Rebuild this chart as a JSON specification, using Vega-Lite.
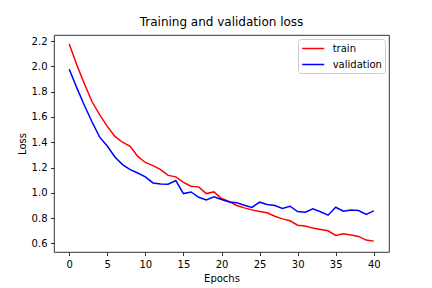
{
  "$schema": "https://vega.github.io/schema/vega-lite/v6.json",
  "width": 335,
  "height": 217,
  "autosize": {"type": "none"},
  "padding": {"left": 54, "top": 35, "right": 43, "bottom": 36},
  "title": {"text": "Training and validation loss", "fontSize": 12, "fontWeight": "normal", "font": "DejaVu Sans", "color": "#000000", "offset": 6, "anchor": "middle", "frame": "group"},
  "config": {
    "view": {"stroke": "#000000", "strokeWidth": 0.8},
    "font": "DejaVu Sans",
    "axis": {
      "grid": false,
      "domain": false,
      "tickColor": "#000000",
      "tickSize": 3.5,
      "tickWidth": 0.8,
      "labelFont": "DejaVu Sans",
      "labelFontSize": 10,
      "labelColor": "#000000",
      "labelPadding": 3.5,
      "titleFont": "DejaVu Sans",
      "titleFontSize": 10,
      "titleFontWeight": "normal",
      "titleColor": "#000000"
    }
  },
  "data": {
    "values": [
      {"epoch": 0, "loss": 2.176, "series": "train"},
      {"epoch": 1, "loss": 2.01, "series": "train"},
      {"epoch": 2, "loss": 1.86, "series": "train"},
      {"epoch": 3, "loss": 1.72, "series": "train"},
      {"epoch": 4, "loss": 1.617, "series": "train"},
      {"epoch": 5, "loss": 1.525, "series": "train"},
      {"epoch": 6, "loss": 1.446, "series": "train"},
      {"epoch": 7, "loss": 1.40, "series": "train"},
      {"epoch": 8, "loss": 1.367, "series": "train"},
      {"epoch": 9, "loss": 1.288, "series": "train"},
      {"epoch": 10, "loss": 1.24, "series": "train"},
      {"epoch": 11, "loss": 1.215, "series": "train"},
      {"epoch": 12, "loss": 1.183, "series": "train"},
      {"epoch": 13, "loss": 1.138, "series": "train"},
      {"epoch": 14, "loss": 1.126, "series": "train"},
      {"epoch": 15, "loss": 1.083, "series": "train"},
      {"epoch": 16, "loss": 1.052, "series": "train"},
      {"epoch": 17, "loss": 1.047, "series": "train"},
      {"epoch": 18, "loss": 0.994, "series": "train"},
      {"epoch": 19, "loss": 1.007, "series": "train"},
      {"epoch": 20, "loss": 0.955, "series": "train"},
      {"epoch": 21, "loss": 0.931, "series": "train"},
      {"epoch": 22, "loss": 0.90, "series": "train"},
      {"epoch": 23, "loss": 0.881, "series": "train"},
      {"epoch": 24, "loss": 0.865, "series": "train"},
      {"epoch": 25, "loss": 0.852, "series": "train"},
      {"epoch": 26, "loss": 0.842, "series": "train"},
      {"epoch": 27, "loss": 0.815, "series": "train"},
      {"epoch": 28, "loss": 0.794, "series": "train"},
      {"epoch": 29, "loss": 0.779, "series": "train"},
      {"epoch": 30, "loss": 0.744, "series": "train"},
      {"epoch": 31, "loss": 0.737, "series": "train"},
      {"epoch": 32, "loss": 0.721, "series": "train"},
      {"epoch": 33, "loss": 0.710, "series": "train"},
      {"epoch": 34, "loss": 0.700, "series": "train"},
      {"epoch": 35, "loss": 0.663, "series": "train"},
      {"epoch": 36, "loss": 0.676, "series": "train"},
      {"epoch": 37, "loss": 0.666, "series": "train"},
      {"epoch": 38, "loss": 0.655, "series": "train"},
      {"epoch": 39, "loss": 0.626, "series": "train"},
      {"epoch": 40, "loss": 0.618, "series": "train"},
      {"epoch": 0, "loss": 1.977, "series": "validation"},
      {"epoch": 1, "loss": 1.83, "series": "validation"},
      {"epoch": 2, "loss": 1.69, "series": "validation"},
      {"epoch": 3, "loss": 1.56, "series": "validation"},
      {"epoch": 4, "loss": 1.44, "series": "validation"},
      {"epoch": 5, "loss": 1.37, "series": "validation"},
      {"epoch": 6, "loss": 1.283, "series": "validation"},
      {"epoch": 7, "loss": 1.223, "series": "validation"},
      {"epoch": 8, "loss": 1.183, "series": "validation"},
      {"epoch": 9, "loss": 1.157, "series": "validation"},
      {"epoch": 10, "loss": 1.126, "series": "validation"},
      {"epoch": 11, "loss": 1.078, "series": "validation"},
      {"epoch": 12, "loss": 1.070, "series": "validation"},
      {"epoch": 13, "loss": 1.068, "series": "validation"},
      {"epoch": 14, "loss": 1.097, "series": "validation"},
      {"epoch": 15, "loss": 0.994, "series": "validation"},
      {"epoch": 16, "loss": 1.007, "series": "validation"},
      {"epoch": 17, "loss": 0.965, "series": "validation"},
      {"epoch": 18, "loss": 0.944, "series": "validation"},
      {"epoch": 19, "loss": 0.968, "series": "validation"},
      {"epoch": 20, "loss": 0.947, "series": "validation"},
      {"epoch": 21, "loss": 0.928, "series": "validation"},
      {"epoch": 22, "loss": 0.921, "series": "validation"},
      {"epoch": 23, "loss": 0.902, "series": "validation"},
      {"epoch": 24, "loss": 0.884, "series": "validation"},
      {"epoch": 25, "loss": 0.926, "series": "validation"},
      {"epoch": 26, "loss": 0.907, "series": "validation"},
      {"epoch": 27, "loss": 0.900, "series": "validation"},
      {"epoch": 28, "loss": 0.876, "series": "validation"},
      {"epoch": 29, "loss": 0.894, "series": "validation"},
      {"epoch": 30, "loss": 0.852, "series": "validation"},
      {"epoch": 31, "loss": 0.847, "series": "validation"},
      {"epoch": 32, "loss": 0.873, "series": "validation"},
      {"epoch": 33, "loss": 0.850, "series": "validation"},
      {"epoch": 34, "loss": 0.823, "series": "validation"},
      {"epoch": 35, "loss": 0.886, "series": "validation"},
      {"epoch": 36, "loss": 0.855, "series": "validation"},
      {"epoch": 37, "loss": 0.865, "series": "validation"},
      {"epoch": 38, "loss": 0.860, "series": "validation"},
      {"epoch": 39, "loss": 0.829, "series": "validation"},
      {"epoch": 40, "loss": 0.857, "series": "validation"}
    ]
  },
  "mark": {"type": "line", "strokeWidth": 1.5},
  "encoding": {
    "x": {
      "field": "epoch",
      "type": "quantitative",
      "title": "Epochs",
      "scale": {"domain": [-2, 42], "nice": false, "zero": false},
      "axis": {"values": [0, 5, 10, 15, 20, 25, 30, 35, 40], "labelAngle": 0, "titlePadding": 4}
    },
    "y": {
      "field": "loss",
      "type": "quantitative",
      "title": "Loss",
      "scale": {"domain": [0.532, 2.248], "nice": false, "zero": false},
      "axis": {"values": [0.6, 0.8, 1.0, 1.2, 1.4, 1.6, 1.8, 2.0, 2.2], "format": ".1f", "titlePadding": 4}
    },
    "color": {
      "field": "series",
      "type": "nominal",
      "scale": {"domain": ["train", "validation"], "range": ["#ff0000", "#0000ff"]},
      "legend": {
        "title": null,
        "orient": "top-right",
        "offset": 4,
        "padding": 3,
        "fillColor": "#ffffff",
        "strokeColor": "#cccccc",
        "cornerRadius": 3,
        "symbolType": "M-2,0H2",
        "symbolSize": 121,
        "symbolOffset": 5.7,
        "symbolStrokeWidth": 1.5,
        "labelFont": "DejaVu Sans",
        "labelFontSize": 10,
        "labelColor": "#000000",
        "labelOffset": 13,
        "rowPadding": 4
      }
    }
  }
}
